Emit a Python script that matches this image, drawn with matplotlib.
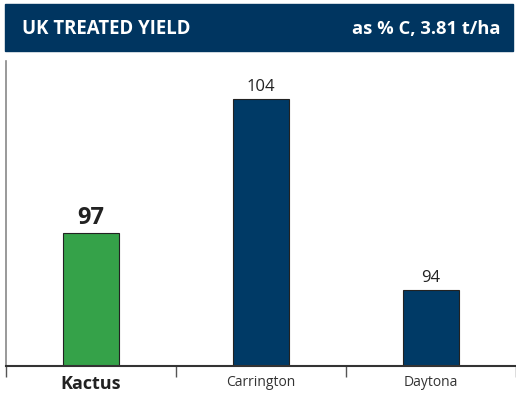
import matplotlib
matplotlib.use('Agg')
import matplotlib.pyplot as plt
from matplotlib.patches import Rectangle

categories = ['Kactus', 'Carrington', 'Daytona']
values = [97, 104, 94]
colors = ['#35a249', '#003a66', '#003a66']
title_left = 'UK TREATED YIELD'
title_right = 'as % C, 3.81 t/ha'

plt.rcParams['font.family'] = ['Open Sans', 'DejaVu Sans']

fig = plt.figure(figsize=(5.16, 4.06), dpi=100)
W, H = 516, 406

# header band
fig.patches.append(Rectangle((5 / W, 1 - 52 / H), 508 / W, 47 / H,
                             transform=fig.transFigure, color='#003560', zorder=0))
fig.text(22 / W, 1 - 29 / H, title_left, color='white', fontsize=13.4,
         fontweight='bold', va='center', ha='left')
fig.text(500 / W, 1 - 29 / H, title_right, color='white', fontsize=13.2,
         fontweight='bold', va='center', ha='right')

ax = fig.add_axes([6 / W, 1 - 367 / H, 510 / W, 305 / H])
x = range(len(categories))
bars = ax.bar(x, values, width=0.335, color=colors, edgecolor='#222222',
              linewidth=0.8, bottom=0)
ax.set_xlim(-0.5, 2.5)
ax.set_ylim(90, 106)

for i, (b, v) in enumerate(zip(bars, values)):
    if i == 0:
        ax.text(i, v + 0.2, str(v), ha='center', va='bottom', fontsize=17,
                fontweight='bold', color='#222222')
    else:
        ax.text(i, v + 0.25, str(v), ha='center', va='bottom', fontsize=12,
                color='#222222')

for s in ['top', 'right']:
    ax.spines[s].set_visible(False)
ax.spines['left'].set_color('#888888')
ax.spines['left'].set_linewidth(1.2)
ax.spines['bottom'].set_color('#333333')
ax.spines['bottom'].set_linewidth(1.5)
ax.set_yticks([])

# category boundaries as ticks
ax.set_xticks([-0.5, 0.5, 1.5, 2.5])
ax.set_xticklabels([])
ax.tick_params(axis='x', length=8, width=1, color='#555555')
ax.set_xticks(list(x), minor=True)
ax.set_xticklabels(categories, minor=True)
ax.tick_params(axis='x', which='minor', length=0, pad=6, labelsize=10,
               labelcolor='#333333')
lbls = ax.get_xticklabels(minor=True)
lbls[0].set_fontsize(13)
lbls[0].set_fontweight('bold')
lbls[0].set_color('#222222')

fig.savefig('out.png', dpi=100)
